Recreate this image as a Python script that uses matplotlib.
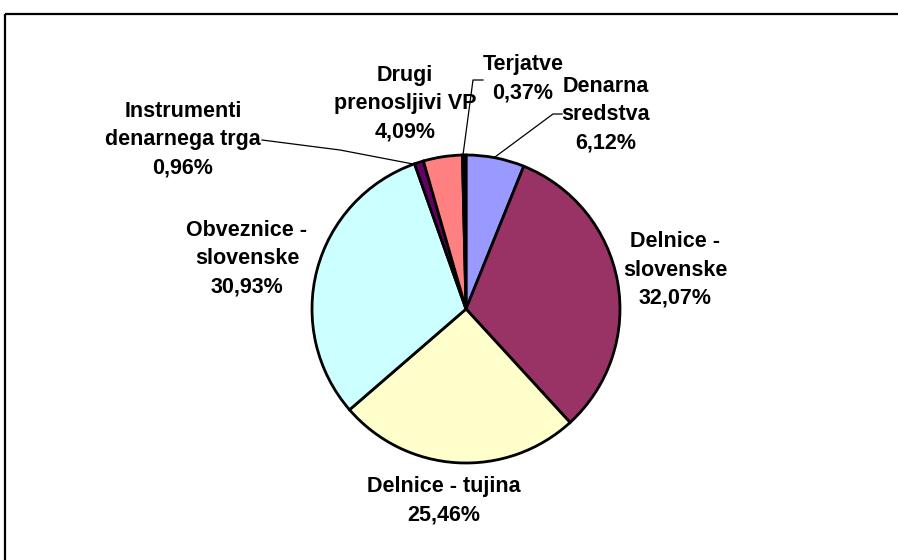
import matplotlib
matplotlib.use('Agg')
import matplotlib.pyplot as plt
from matplotlib.patches import Rectangle

plt.rcParams['font.family'] = ['Liberation Sans', 'DejaVu Sans']

# deleži naložb (v smeri urinega kazalca od vrha)
labels = ['Denarna\nsredstva', 'Delnice -\nslovenske', 'Delnice - tujina',
          'Obveznice -\nslovenske', 'Instrumenti\ndenarnega trga',
          'Drugi\nprenosljivi VP', 'Terjatve']
values = [6.12, 32.07, 25.46, 30.93, 0.96, 4.09, 0.37]
colors = ['#9999FF', '#993366', '#FFFFCC', '#CCFFFF', '#660066', '#FF8080', '#000000']

# polozaji oznak v pikslih (x, y od zgoraj)
label_pos = [(606, 115), (675, 270), (444, 501), (247, 259),
             (183, 140), (405, 104), (523, 79)]

W, H = 898, 560
fig = plt.figure(figsize=(W / 100, H / 100), dpi=100)
ax = fig.add_axes([0, 0, 1, 1])

def Y(y):
    return H - y

ax.pie(values, colors=colors, startangle=90, counterclock=False,
       center=(466, Y(309)), radius=154,
       wedgeprops=dict(edgecolor='black', linewidth=2))

ax.set_xlim(0, W)
ax.set_ylim(0, H)
ax.set_aspect('equal')
ax.axis('off')

# okvir
ax.add_patch(Rectangle((5, Y(14)), W, -(H), fill=False, lw=1.6, ec='black'))

for lab, v, (x, y) in zip(labels, values, label_pos):
    txt = f'{lab}\n{v:.2f}%'.replace('.', ',')
    ax.text(x, Y(y), txt, ha='center', va='center', fontsize=15.5,
            fontweight='bold', linespacing=1.45)

# vodilne crte
leaders = [
    [(495, 157), (553, 114), (562, 114)],
    [(463, 155), (473, 80), (483, 80)],
    [(413, 164), (340, 150), (262, 140)],
]
for pts in leaders:
    ax.plot([p[0] for p in pts], [Y(p[1]) for p in pts], color='black', lw=0.9)

fig.savefig('out.png', dpi=100)
